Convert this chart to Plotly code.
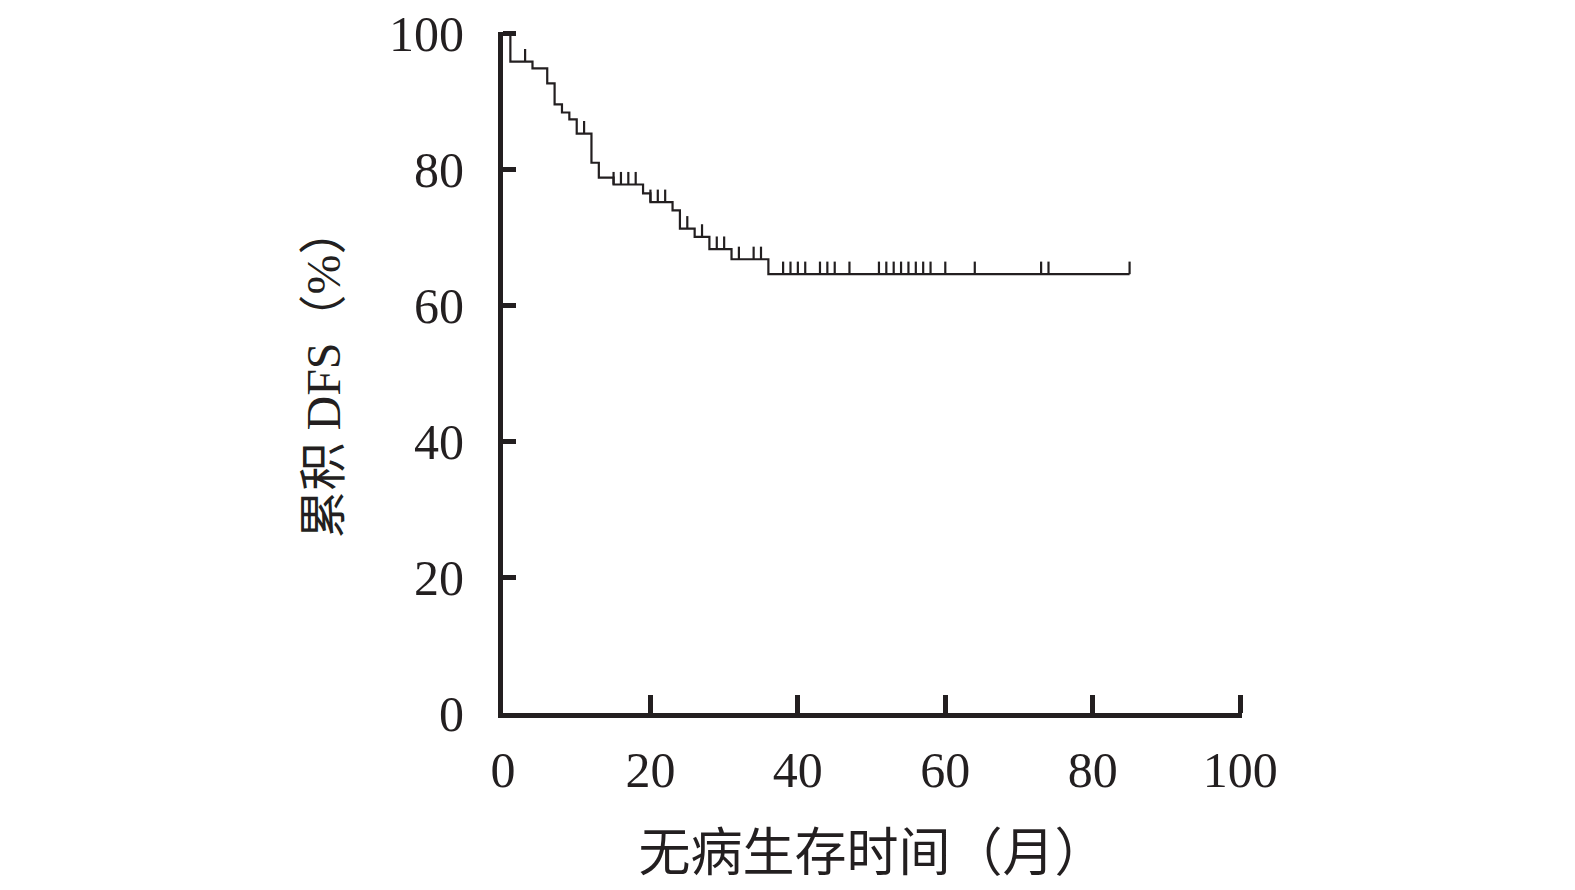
import plotly.graph_objects as go

# ---- data ----
event_times = [0, 1, 4, 6, 7, 8, 9, 10, 12, 13, 15, 19, 20, 23, 24, 26, 28, 31, 36]
survival = [100, 95.9, 94.9, 92.7, 89.6, 88.4, 87.4, 85.3, 81.0, 78.8, 77.8, 76.5,
            75.2, 74.0, 71.3, 70.1, 68.3, 66.8, 64.6]
censor_times = [3, 11, 15, 16, 17, 18, 20, 21, 22, 25, 27, 29, 30, 32, 34, 35,
                38, 39, 40, 41, 43, 44, 45, 47, 51, 52, 53, 54, 55, 56, 57, 58,
                60, 64, 73, 74, 85]
end_time = 85
x_ticks = [0, 20, 40, 60, 80, 100]
y_ticks = [0, 20, 40, 60, 80, 100]
x_title = "无病生存时间（月）"
y_title = "累积 DFS（%）"

INK = "#231f20"
FONT = "Liberation Serif, Times New Roman, Noto Sans CJK SC, serif"
TICK_H = 1.85  # censor mark height in y units


def surv_at(t):
    s = survival[0]
    for et, sv in zip(event_times, survival):
        if et <= t:
            s = sv
    return s


fig = go.Figure()
fig.add_trace(go.Scatter(
    x=event_times + [end_time],
    y=survival + [survival[-1]],
    mode="lines",
    line=dict(color=INK, width=2.2, shape="hv"),
    cliponaxis=False,
    showlegend=False,
    hoverinfo="skip",
))

cx, cy = [], []
for c in censor_times:
    s = surv_at(c)
    cx += [c, c, None]
    cy += [s, s + TICK_H, None]
fig.add_trace(go.Scatter(
    x=cx, y=cy, mode="lines",
    line=dict(color=INK, width=2.2),
    cliponaxis=False, showlegend=False, hoverinfo="skip",
))

fig.update_layout(
    width=1567, height=882,
    margin=dict(l=495, r=332.7, t=23.8, b=177, autoexpand=False),
    paper_bgcolor="white", plot_bgcolor="white",
    font=dict(family=FONT, color=INK, size=50),
    xaxis=dict(
        range=[0, 100.25], tickvals=x_ticks, ticktext=[str(v) for v in x_ticks],
        showgrid=False, zeroline=False,
        showline=True, linewidth=5, linecolor=INK,
        ticks="inside", ticklen=18, tickwidth=5, tickcolor=INK,
        tickfont=dict(family=FONT, size=50, color=INK),
        ticklabelstandoff=9, ticklabeloverflow="allow",
        title=dict(text=x_title, font=dict(family=FONT, size=52, color=INK), standoff=39),
        automargin=False,
    ),
    yaxis=dict(
        range=[0, 100.25], tickvals=y_ticks, ticktext=[str(v) for v in y_ticks],
        showgrid=False, zeroline=False,
        showline=True, linewidth=5, linecolor=INK,
        ticks="inside", ticklen=13, tickwidth=5, tickcolor=INK,
        tickfont=dict(family=FONT, size=50, color=INK),
        ticklabelstandoff=24, ticklabeloverflow="allow",
        title=dict(text=y_title, font=dict(family=FONT, size=48, color=INK), standoff=35),
        automargin=False,
    ),
)

fig.write_html("out.html")
